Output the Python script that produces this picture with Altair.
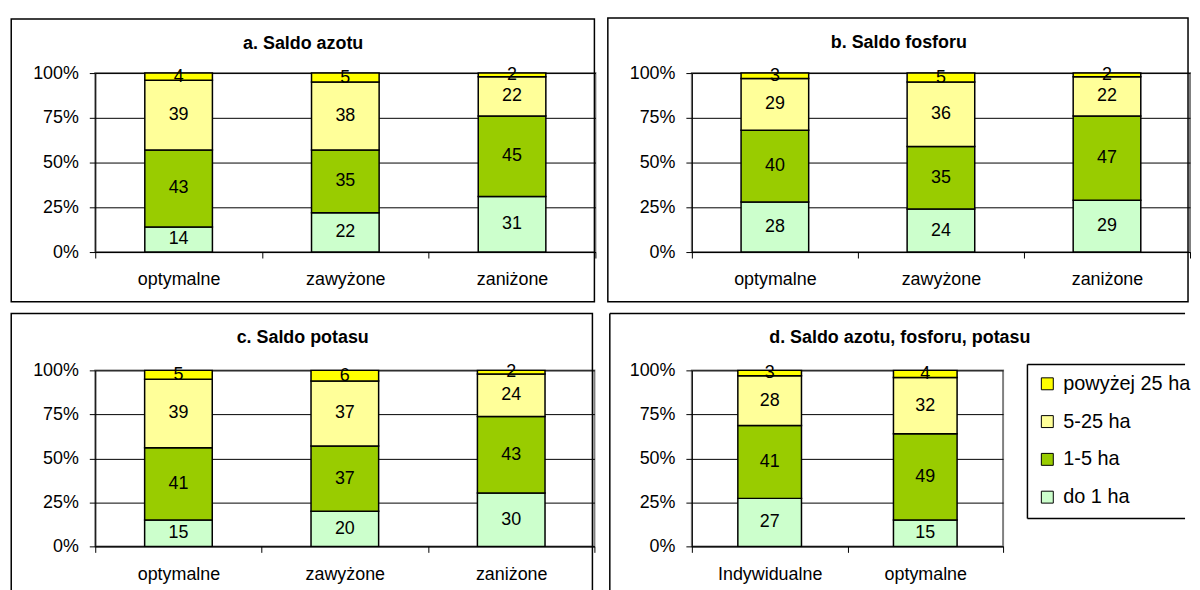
import altair as alt
import pandas as pd

# legend order (top to bottom) and colours
classes = ["powyżej 25 ha", "5-25 ha", "1-5 ha", "do 1 ha"]
class_colors = ["#FFFF00", "#FFFF99", "#99CC00", "#CCFFCC"]
# stacking order (bottom to top)
stack_order = ["do 1 ha", "1-5 ha", "5-25 ha", "powyżej 25 ha"]

cats_abc = ["optymalne", "zawyżone", "zaniżone"]
cats_d = ["Indywidualne", "optymalne"]

a_do1 = [14, 22, 31]
a_1_5 = [43, 35, 45]
a_5_25 = [39, 38, 22]
a_pow25 = [4, 5, 2]

b_do1 = [28, 24, 29]
b_1_5 = [40, 35, 47]
b_5_25 = [29, 36, 22]
b_pow25 = [3, 5, 2]

c_do1 = [15, 20, 30]
c_1_5 = [41, 37, 43]
c_5_25 = [39, 37, 24]
c_pow25 = [5, 6, 2]

d_do1 = [27, 15]
d_1_5 = [41, 49]
d_5_25 = [28, 32]
d_pow25 = [3, 4]

y_ticks = [0, 0.25, 0.5, 0.75, 1]

FONT = "Liberation Sans"
ONE = pd.DataFrame({"k": [0]})


def hline(x1, x2, y):
    return alt.Chart(ONE).mark_rule(color="black", strokeWidth=1.5).encode(
        x=alt.value(x1), x2=alt.value(x2), y=alt.value(y))


def vline(x, y1, y2):
    return alt.Chart(ONE).mark_rule(color="black", strokeWidth=1.5).encode(
        x=alt.value(x), y=alt.value(y1), y2=alt.value(y2))


def box(x1, x2, y1, y2):
    return alt.Chart(ONE).mark_rect(fill="transparent", stroke="black", strokeWidth=1.5).encode(
        x=alt.value(x1), x2=alt.value(x2), y=alt.value(y1), y2=alt.value(y2))


def panel(cats, series, title, w, h, bar_size, frame_layers, legend=None):
    rows = []
    for name, vals in zip(stack_order, series):
        for c, v in zip(cats, vals):
            rows.append({"kat": c, "klasa": name, "v": v, "rank": stack_order.index(name)})
    df = pd.DataFrame(rows)

    x_axis = alt.Axis(labelAngle=0, tickBand="extent", grid=False, labelPadding=13, tickSize=6)
    y_axis = alt.Axis(values=y_ticks, format=".0%", labelPadding=11, tickSize=6, grid=True)
    x_scale = alt.Scale(paddingInner=0, paddingOuter=0)
    y_scale = alt.Scale(domain=[0, 1], nice=False)

    bars = alt.Chart(df).mark_bar(size=bar_size, stroke="black", strokeWidth=1.5).encode(
        x=alt.X("kat:N", sort=cats, title=None, scale=x_scale, axis=x_axis),
        y=alt.Y("v:Q", stack="normalize", title=None, scale=y_scale, axis=y_axis),
        color=alt.Color("klasa:N", scale=alt.Scale(domain=classes, range=class_colors), legend=legend),
        order=alt.Order("rank:Q", sort="ascending"),
    )
    labels = alt.Chart(df).transform_stack(
        stack="v", groupby=["kat"], as_=["v0", "v1"], offset="normalize",
        sort=[alt.SortField("rank", order="ascending")],
    ).transform_calculate(
        mid="(datum.v0 + datum.v1) / 2"
    ).mark_text(fontSize=18, color="black", font=FONT, baseline="middle").encode(
        x=alt.X("kat:N", sort=cats, title=None, scale=x_scale, axis=x_axis),
        y=alt.Y("mid:Q", title=None, scale=y_scale, axis=y_axis),
        text="v:Q",
    )
    return alt.layer(*frame_layers, bars, labels).properties(width=w, height=h, title=title)


legend_d = alt.Legend(
    orient="none", legendX=347.5, legendY=3.5, title=None,
    symbolType="square", symbolSize=144, symbolStrokeColor="black", symbolStrokeWidth=1,
    symbolOpacity=1, labelFontSize=20, labelColor="black", labelFont=FONT, labelOffset=6,
    padding=0, rowPadding=18,
)

pa = panel(cats_abc, [a_do1, a_1_5, a_5_25, a_pow25], "a. Saldo azotu", 503, 180, 68,
           [box(-84.5, 502, -54.5, 230)])
pb = panel(cats_abc, [b_do1, b_1_5, b_5_25, b_pow25], "b. Saldo fosforu", 501, 180, 68,
           [box(-84.5, 499, -55.5, 230)])
pc = panel(cats_abc, [c_do1, c_1_5, c_5_25, c_pow25], "c. Saldo potasu", 502, 177, 68,
           [box(-84.5, 500, -57.3, 229)])
pd_ = panel(cats_d, [d_do1, d_1_5, d_5_25, d_pow25],
            "d. Saldo azotu, fosforu, potasu", 313, 177, 64,
            [hline(-82.5, 496, -57.3), vline(-82.5, -57.3, 229),
             hline(337.5, 496, -6), hline(337.5, 496, 149), vline(337.5, -6, 149)],
            legend=legend_d)

chart = alt.concat(
    pa, pb, pc, pd_, columns=2, spacing={"row": 119, "column": 97}, bounds="flush"
).resolve_scale(color="independent").resolve_legend(color="independent").properties(
    padding={"left": 0.75, "top": 5.75, "right": 0, "bottom": 0}
).configure(font=FONT).configure_view(
    stroke="#808080", strokeWidth=2
).configure_axis(
    labelFontSize=18, labelColor="black", labelFont=FONT, domainColor="black",
    tickColor="black", gridColor="black", gridWidth=1, domainWidth=1,
).configure_title(
    fontSize=18, fontWeight="bold", anchor="middle", frame="bounds", offset=-35,
    color="black", font=FONT,
)

chart.save("out.html", embed_options={"renderer": "svg", "actions": False})
